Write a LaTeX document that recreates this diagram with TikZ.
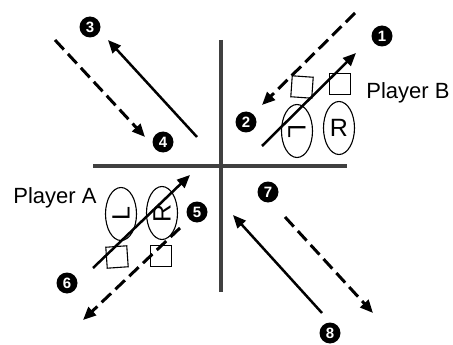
\documentclass[tikz,border=0pt]{standalone}
\usepackage{fontspec}
\setmainfont{Liberation Sans}
\usetikzlibrary{arrows.meta, shapes.geometric}

\tikzset{
  num/.style={circle, fill=black, text=white, font=\bfseries\fontsize{15}{15}\selectfont, inner sep=0pt, minimum size=21pt},
  foot/.style={draw, ellipse, line width=1.1pt, minimum width=31pt, minimum height=53pt, inner sep=0pt, font=\fontsize{25}{25}\selectfont},
  box/.style={draw, line width=1.1pt, minimum size=21pt, inner sep=0pt},
  run/.style={-{Triangle[length=13pt,width=11pt]}, line width=2.5pt},
  pass/.style={run, line width=3pt, dash pattern=on 13pt off 6pt},
  axis/.style={line width=3.5pt, draw=black!75}
}

\begin{document}
\begin{tikzpicture}[x=1pt, y=-1pt]
  \useasboundingbox (0,0) rectangle (453,345);

  % court lines
  \coordinate (vt) at (221,40);
  \coordinate (vb) at (221,292);
  \coordinate (hl) at (93,166);
  \coordinate (hr) at (347,166);
  \draw[axis] (vt) -- (vb);
  \draw[axis] (hl) -- (hr);

  % player B
  \node[font=\fontsize{22}{22}\selectfont] (pB) at (408,93) {Player B};
  \node[foot] (bL) at (297,131) {\rotatebox{-90}{L}};
  \node[foot] (bR) at (339,128) {R};
  \node[box, rotate=-4] (bs1) at (302,87) {};
  \node[box] (bs2) at (340,84) {};

  % player A
  \node[font=\fontsize{22}{22}\selectfont] (pA) at (55,198) {Player A};
  \node[foot] (aL) at (121,214) {\rotatebox{90}{L}};
  \node[foot] (aR) at (162,213) {\rotatebox{90}{R}};
  \node[box, rotate=4] (as1) at (117,257) {};
  \node[box] (as2) at (161,256) {};

  % numbers
  \node[num] (n1) at (382,36) {1};
  \node[num] (n2) at (246,122) {2};
  \node[num] (n3) at (90,27) {3};
  \node[num] (n4) at (163,142) {4};
  \node[num] (n5) at (197,212) {5};
  \node[num] (n6) at (67,283) {6};
  \node[num] (n7) at (268,192) {7};
  \node[num] (n8) at (330,333) {8};

  % arrow ends
  \coordinate (b1s) at (262,146);
  \coordinate (b1e) at (356,53);
  \coordinate (b2s) at (355,13);
  \coordinate (b2e) at (262,105);
  \coordinate (c1s) at (55,40);
  \coordinate (c1e) at (145,137);
  \coordinate (c2s) at (197,137);
  \coordinate (c2e) at (108,40);
  \coordinate (a1s) at (93,268);
  \coordinate (a1e) at (190,175);
  \coordinate (a2s) at (180,228);
  \coordinate (a2e) at (83,320);
  \coordinate (d1s) at (322,313);
  \coordinate (d1e) at (233,215);
  \coordinate (d2s) at (285,217);
  \coordinate (d2e) at (373,313);

  \draw[run] (b1s) -- (b1e);
  \draw[pass] (b2s) -- (b2e);
  \draw[pass] (c1s) -- (c1e);
  \draw[run] (c2s) -- (c2e);
  \draw[run] (a1s) -- (a1e);
  \draw[pass] (a2s) -- (a2e);
  \draw[run] (d1s) -- (d1e);
  \draw[pass] (d2s) -- (d2e);
\end{tikzpicture}
\end{document}
